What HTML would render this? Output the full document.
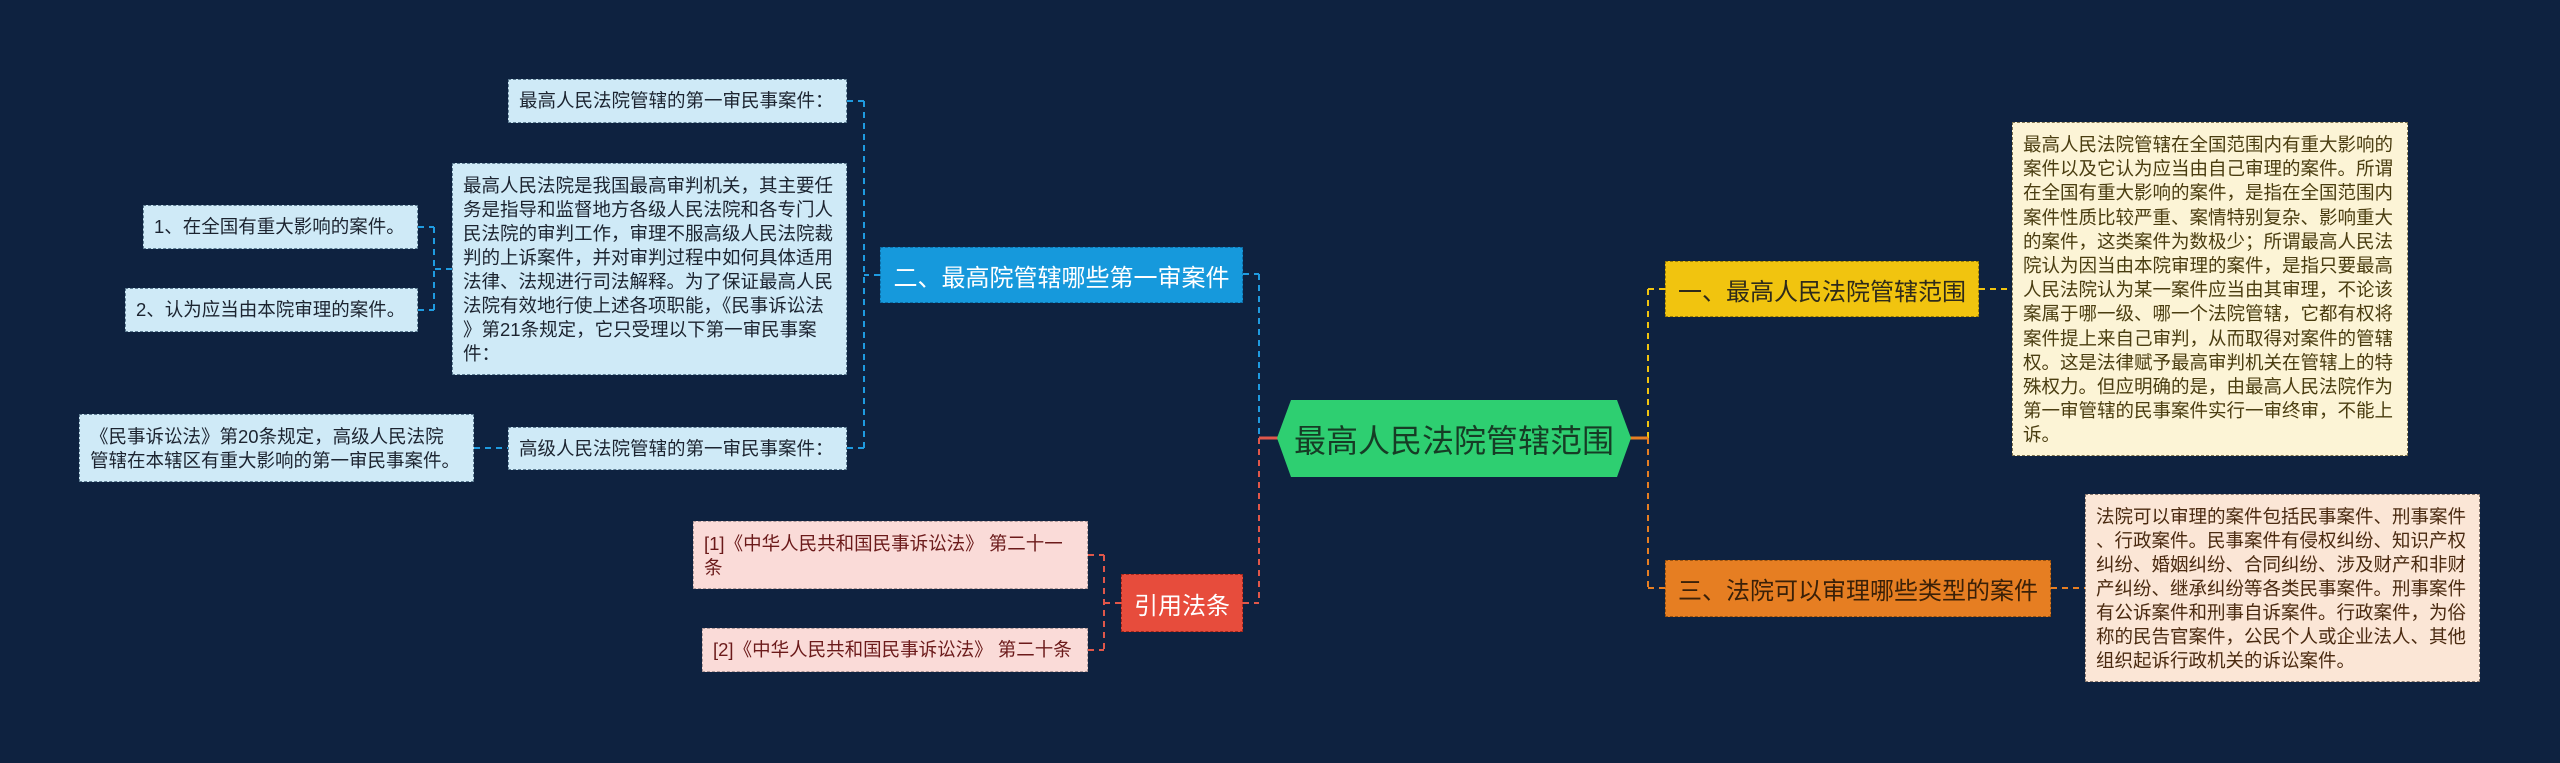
<!DOCTYPE html>
<html>
<head>
<meta charset="utf-8">
<style>
  html,body{margin:0;padding:0;}
  body{width:2560px;height:763px;background:#0e2240;position:relative;overflow:hidden;
    font-family:"Liberation Sans","Noto Sans CJK SC",sans-serif;}
  .b{position:absolute;box-sizing:border-box;white-space:nowrap;font-size:18.5px;line-height:24px;}
  .lb{background:#cfeaf7;border:1px dashed #5d7c92;color:#1c2430;padding:10px 10px;}
  .pk{background:#fadbd8;border:1px dashed #b09a9a;color:#6b1a1a;padding:10px 10px;}
  .cr{background:#fcf4d6;border:1px dashed #7d7350;color:#4a3d10;padding:10px 10px;line-height:24.2px;}
  .pe{background:#fbe6d6;border:1px dashed #8a7a70;color:#4a2a10;padding:10px 10px;}
  .one{display:flex;align-items:center;padding-top:0;padding-bottom:0;}
  .n{position:absolute;box-sizing:border-box;display:flex;align-items:center;justify-content:center;white-space:nowrap;font-size:24px;}
</style>
</head>
<body>
<svg width="2560" height="763" style="position:absolute;left:0;top:0" xmlns="http://www.w3.org/2000/svg">
  <g fill="none" stroke-width="2" stroke-dasharray="6 5">
    <!-- blue -->
    <g stroke="#1f9be0">
      <path d="M880 275 H864 M864 101 V448 M847 101 H864 M847 448 H864"/>
      <path d="M452 269 H434 M434 227 V310 M418 227 H434 M418 310 H434"/>
      <path d="M474 448 H508"/>
      <path d="M1243 274 H1259 M1259 274 V438"/>
    </g>
    <!-- red -->
    <g stroke="#e0574a">
      <path d="M1259 438 V603 M1243 603 H1259"/>
      <path d="M1121 603 H1104 M1104 555 V650 M1088 555 H1104 M1088 650 H1104"/>
    </g>
    <!-- yellow -->
    <g stroke="#f1c40f">
      <path d="M1648 438 V289 M1648 289 H1665 M1979 289 H2012"/>
    </g>
    <!-- orange -->
    <g stroke="#e67e22">
      <path d="M1648 438 V588 M1648 588 H1665 M2051 588 H2085"/>
    </g>
  </g>
  <path d="M1259 438 H1278" stroke="#e0574a" stroke-width="3"/>
  <path d="M1630 438 H1648" stroke="#e67e22" stroke-width="3"/>
  <polygon points="1291,400 1617,400 1631,438 1617,477 1291,477 1277,438" fill="#2ecf71"/>
</svg>

<!-- central -->
<div class="n" style="left:1277px;top:400px;width:354px;height:77px;font-size:32px;color:#163c25;">最高人民法院管辖范围</div>

<!-- left branch -->
<div class="n" style="left:880px;top:247px;width:363px;height:56px;background:#1699dc;border:1px dashed #0d6fa8;color:#ffffff;">二、最高院管辖哪些第一审案件</div>

<div class="b lb one" style="left:508px;top:79px;width:339px;height:44px;">最高人民法院管辖的第一审民事案件：</div>
<div class="b lb" style="left:452px;top:163px;width:395px;height:212px;">最高人民法院是我国最高审判机关，其主要任<br>务是指导和监督地方各级人民法院和各专门人<br>民法院的审判工作，审理不服高级人民法院裁<br>判的上诉案件，并对审判过程中如何具体适用<br>法律、法规进行司法解释。为了保证最高人民<br>法院有效地行使上述各项职能，《民事诉讼法<br>》第21条规定，它只受理以下第一审民事案<br>件：</div>
<div class="b lb one" style="left:143px;top:205px;width:275px;height:44px;">1、在全国有重大影响的案件。</div>
<div class="b lb one" style="left:125px;top:288px;width:293px;height:44px;">2、认为应当由本院审理的案件。</div>
<div class="b lb" style="left:79px;top:414px;width:395px;height:68px;">《民事诉讼法》第20条规定，高级人民法院<br>管辖在本辖区有重大影响的第一审民事案件。</div>
<div class="b lb one" style="left:508px;top:427px;width:339px;height:43px;">高级人民法院管辖的第一审民事案件：</div>

<!-- red branch -->
<div class="n" style="left:1121px;top:574px;width:122px;height:58px;background:#e74c3c;border:1px dashed #a5281c;color:#ffffff;">引用法条</div>
<div class="b pk" style="left:693px;top:521px;width:395px;height:68px;">[1]《中华人民共和国民事诉讼法》 第二十一<br>条</div>
<div class="b pk one" style="left:702px;top:628px;width:386px;height:44px;">[2]《中华人民共和国民事诉讼法》 第二十条</div>

<!-- right branches -->
<div class="n" style="left:1665px;top:261px;width:314px;height:56px;background:#f1c40f;border:1px dashed #9c7d05;color:#2e2a1a;">一、最高人民法院管辖范围</div>
<div class="b cr" style="left:2012px;top:122px;width:396px;height:334px;">最高人民法院管辖在全国范围内有重大影响的<br>案件以及它认为应当由自己审理的案件。所谓<br>在全国有重大影响的案件，是指在全国范围内<br>案件性质比较严重、案情特别复杂、影响重大<br>的案件，这类案件为数极少；所谓最高人民法<br>院认为因当由本院审理的案件，是指只要最高<br>人民法院认为某一案件应当由其审理，不论该<br>案属于哪一级、哪一个法院管辖，它都有权将<br>案件提上来自己审判，从而取得对案件的管辖<br>权。这是法律赋予最高审判机关在管辖上的特<br>殊权力。但应明确的是，由最高人民法院作为<br>第一审管辖的民事案件实行一审终审，不能上<br>诉。</div>

<div class="n" style="left:1665px;top:560px;width:386px;height:57px;background:#e67e22;border:1px dashed #99520f;color:#3a2008;">三、法院可以审理哪些类型的案件</div>
<div class="b pe" style="left:2085px;top:494px;width:395px;height:188px;">法院可以审理的案件包括民事案件、刑事案件<br>、行政案件。民事案件有侵权纠纷、知识产权<br>纠纷、婚姻纠纷、合同纠纷、涉及财产和非财<br>产纠纷、继承纠纷等各类民事案件。刑事案件<br>有公诉案件和刑事自诉案件。行政案件，为俗<br>称的民告官案件，公民个人或企业法人、其他<br>组织起诉行政机关的诉讼案件。</div>
</body>
</html>
